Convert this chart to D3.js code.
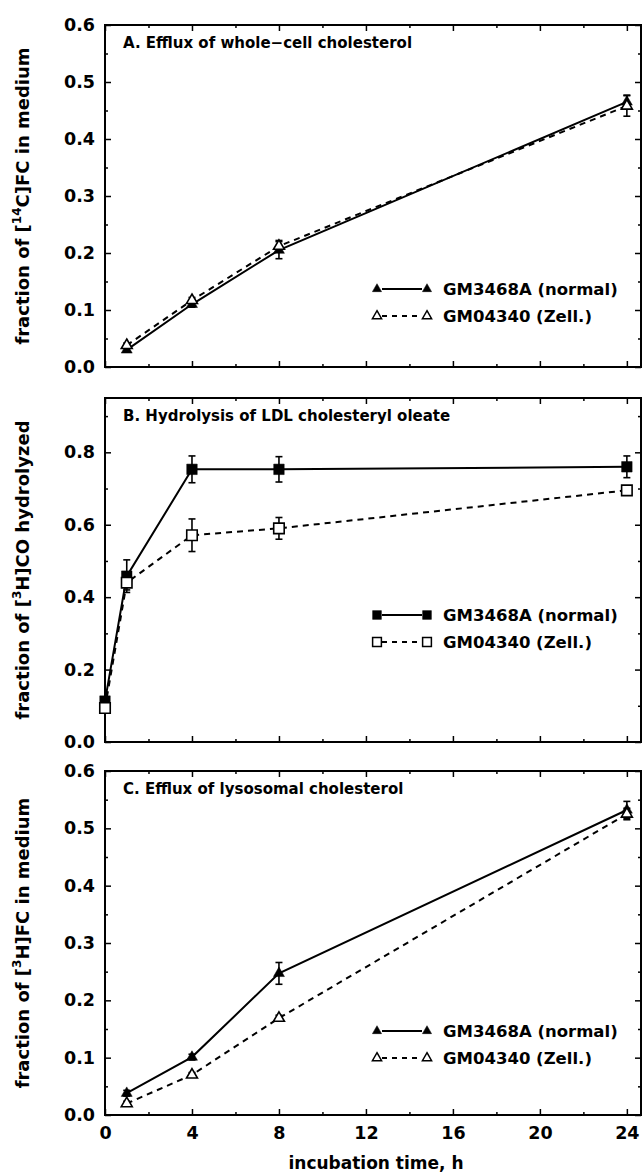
<!DOCTYPE html>
<html>
<head>
<meta charset="utf-8">
<script src="https://cdn.jsdelivr.net/npm/d3@7"></script>
<style>
  body { margin: 0; background: #fff; }
  text { font-family: "DejaVu Sans", sans-serif; font-weight: bold; fill: #000; }
</style>
</head>
<body>
<script>
// incubation times (h)
const hours = [1, 4, 8, 24];
const hoursB = [0, 1, 4, 8, 24];

// A. efflux of whole-cell cholesterol
const aNormal = [0.03, 0.11, 0.205, 0.465];
const aNormalErr = [0.004, 0.005, 0.015, 0.012];
const aZell = [0.038, 0.117, 0.212, 0.458];
const aZellErr = [0.004, 0.005, 0.01, 0.018];

// B. hydrolysis of LDL cholesteryl oleate
const bNormal = [0.113, 0.458, 0.753, 0.753, 0.76];
const bNormalErr = [0.01, 0.045, 0.037, 0.035, 0.03];
const bZell = [0.094, 0.44, 0.571, 0.59, 0.695];
const bZellErr = [0.008, 0.02, 0.045, 0.03, 0.008];

// C. efflux of lysosomal cholesterol
const cNormal = [0.038, 0.101, 0.247, 0.532];
const cNormalErr = [0.005, 0.005, 0.019, 0.015];
const cZell = [0.02, 0.07, 0.169, 0.525];
const cZellErr = [0.004, 0.004, 0.005, 0.01];

const xTicks = [0, 4, 8, 12, 16, 20, 24];
const legendNames = ["GM3468A (normal)", "GM04340 (Zell.)"];

const W = 644, H = 1175;
const left = 105, right = 641;

const svg = d3.select("body").append("svg")
  .attr("width", W).attr("height", H);

const x = d3.scaleLinear().domain([0, 24.65]).range([left, right]);

const panels = [
  { top: 25, bottom: 367, max: 0.6, major: 0.1, minor: 0.05,
    title: "A. Efflux of whole\u2212cell cholesterol",
    label: ["fraction of [", "14", "C]FC in medium"],
    shape: d3.symbolTriangle, size: 52,
    xs: hours, normal: aNormal, normalErr: aNormalErr, zell: aZell, zellErr: aZellErr,
    legend: 78 },
  { top: 398, bottom: 742, max: 0.95, major: 0.2, minor: 0.1,
    title: "B. Hydrolysis of LDL cholesteryl oleate",
    label: ["fraction of [", "3", "H]CO hydrolyzed"],
    shape: d3.symbolSquare, size: 110,
    xs: hoursB, normal: bNormal, normalErr: bNormalErr, zell: bZell, zellErr: bZellErr,
    legend: 127 },
  { top: 771, bottom: 1115, max: 0.6, major: 0.1, minor: 0.05,
    title: "C. Efflux of lysosomal cholesterol",
    label: ["fraction of [", "3", "H]FC in medium"],
    shape: d3.symbolTriangle, size: 52,
    xs: hours, normal: cNormal, normalErr: cNormalErr, zell: cZell, zellErr: cZellErr,
    legend: 84 }
];

function range(step, max) {
  const out = [];
  for (let v = 0; v <= max + 1e-9; v += step) out.push(+v.toFixed(3));
  return out;
}

panels.forEach((p, pi) => {
  const y = d3.scaleLinear().domain([0, p.max]).range([p.bottom, p.top]);
  const g = svg.append("g");
  const majors = range(p.major, p.max);
  const minors = range(p.minor, p.max).filter(v => !majors.includes(v));
  const xMinor = d3.range(2, 25, 4);

  // ticks on all four sides, pointing in
  const addAxis = (axis, tx, ty) => {
    const a = g.append("g").attr("transform", `translate(${tx},${ty})`).call(axis);
    a.select(".domain").remove();
    a.selectAll("line").attr("stroke", "#000").attr("stroke-width", 1.5);
    a.selectAll("text").attr("font-size", 17.5).attr("fill", "#000");
    return a;
  };
  addAxis(d3.axisLeft(y).tickValues(majors).tickSize(-6).tickPadding(10)
    .tickFormat(d3.format(".1f")), left, 0);
  addAxis(d3.axisLeft(y).tickValues(minors).tickSize(-3).tickFormat(""), left, 0);
  addAxis(d3.axisRight(y).tickValues(majors).tickSize(-6).tickFormat(""), right, 0);
  addAxis(d3.axisRight(y).tickValues(minors).tickSize(-3).tickFormat(""), right, 0);
  addAxis(d3.axisTop(x).tickValues(xTicks).tickSize(-6).tickFormat(""), 0, p.top);
  addAxis(d3.axisTop(x).tickValues(xMinor).tickSize(-3).tickFormat(""), 0, p.top);
  addAxis(d3.axisBottom(x).tickValues(xTicks).tickSize(-6).tickPadding(12)
    .tickFormat(pi === 2 ? d3.format("d") : ""), 0, p.bottom);
  addAxis(d3.axisBottom(x).tickValues(xMinor).tickSize(-3).tickFormat(""), 0, p.bottom);

  g.append("rect")
    .attr("x", left).attr("y", p.top)
    .attr("width", right - left).attr("height", p.bottom - p.top)
    .attr("fill", "none").attr("stroke", "#000").attr("stroke-width", 2);

  g.append("text")
    .attr("x", left + 18).attr("y", p.top + 23)
    .attr("font-size", 15)
    .text(p.title);

  const lab = g.append("text")
    .attr("transform", `translate(29,${(p.top + p.bottom) / 2}) rotate(-90)`)
    .attr("text-anchor", "middle")
    .attr("font-size", 18);
  lab.append("tspan").text(p.label[0]);
  lab.append("tspan").attr("font-size", 12).attr("dy", -8).text(p.label[1]);
  lab.append("tspan").attr("dy", 8).text(p.label[2]);

  const series = [
    { vals: p.normal, err: p.normalErr, filled: true, dash: null },
    { vals: p.zell, err: p.zellErr, filled: false, dash: "6,5" }
  ];

  const line = d3.line().x(d => x(d[0])).y(d => y(d[1]));
  const sym = d3.symbol().type(p.shape).size(p.size);

  series.forEach(s => {
    const pts = p.xs.map((h, i) => [h, s.vals[i], s.err[i]]);
    g.append("path")
      .attr("d", line(pts))
      .attr("fill", "none").attr("stroke", "#000").attr("stroke-width", 2)
      .attr("stroke-dasharray", s.dash);

    const eb = g.append("g").selectAll("g").data(pts.filter(d => d[2] > 0)).join("g")
      .attr("stroke", "#000").attr("stroke-width", 1.6);
    eb.append("line")
      .attr("x1", d => x(d[0])).attr("x2", d => x(d[0]))
      .attr("y1", d => y(d[1] - d[2])).attr("y2", d => y(d[1] + d[2]));
    eb.append("line")
      .attr("x1", d => x(d[0]) - 3.5).attr("x2", d => x(d[0]) + 3.5)
      .attr("y1", d => y(d[1] + d[2])).attr("y2", d => y(d[1] + d[2]));
    eb.append("line")
      .attr("x1", d => x(d[0]) - 3.5).attr("x2", d => x(d[0]) + 3.5)
      .attr("y1", d => y(d[1] - d[2])).attr("y2", d => y(d[1] - d[2]));

    g.append("g").selectAll("path").data(pts).join("path")
      .attr("d", sym)
      .attr("transform", d => `translate(${x(d[0])},${y(d[1])})`)
      .attr("fill", s.filled ? "#000" : "#fff")
      .attr("stroke", "#000").attr("stroke-width", s.filled ? 0.5 : 1.6);
  });

  // legend
  const lx1 = 377, lx2 = 427;
  series.forEach((s, i) => {
    const ly = p.bottom - p.legend + i * 27;
    g.append("line")
      .attr("x1", lx1 + 5).attr("x2", lx2 - 5).attr("y1", ly).attr("y2", ly)
      .attr("stroke", "#000").attr("stroke-width", 2)
      .attr("stroke-dasharray", s.dash ? "5,5" : null);
    [lx1, lx2].forEach(lx => {
      g.append("path").attr("d", d3.symbol().type(p.shape).size(p.size * 0.7)())
        .attr("transform", `translate(${lx},${ly})`)
        .attr("fill", s.filled ? "#000" : "#fff")
        .attr("stroke", "#000").attr("stroke-width", s.filled ? 0.5 : 1.5);
    });
    g.append("text")
      .attr("x", 443).attr("y", ly + 6)
      .attr("font-size", 16.5)
      .text(legendNames[i]);
  });
});

svg.append("text")
  .attr("x", (left + right) / 2 + 3).attr("y", 1169)
  .attr("text-anchor", "middle")
  .attr("font-size", 17)
  .text("incubation time, h");
</script>
</body>
</html>
